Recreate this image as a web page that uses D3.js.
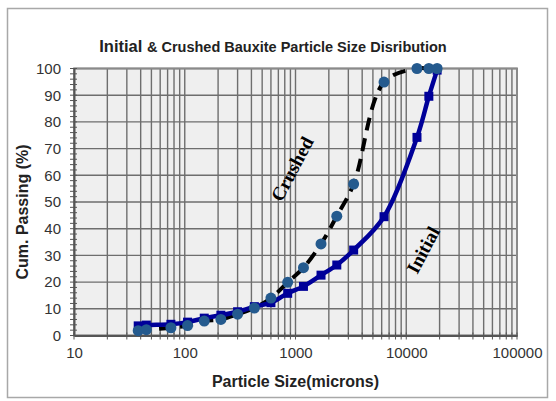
<!DOCTYPE html>
<html>
<head>
<meta charset="utf-8">
<script src="https://cdn.jsdelivr.net/npm/d3@7"></script>
<style>
  body { margin: 0; background: #fff; }
  text { font-family: Arial, "Liberation Sans", sans-serif; }
</style>
</head>
<body>
<div id="wrapper"></div>
<script>
// sieve sizes (microns) and cumulative passing (%)
const sizes = [38, 45, 75, 106, 150, 212, 300, 425, 600, 850, 1180, 1700, 2360, 3350, 6300, 12500, 16000, 19000]
const crushed = [1.8, 2.2, 2.9, 3.7, 5.4, 6.0, 8.0, 10.3, 14.0, 19.9, 25.4, 34.3, 44.7, 56.7, 94.9, 100, 100, 100]
const initial = [3.6, 3.9, 4.2, 5.0, 6.5, 7.6, 8.9, 10.8, 12.3, 15.8, 18.4, 22.6, 26.4, 32.0, 44.5, 74.2, 89.6, 99.4]
const xTicks = [10, 100, 1000, 10000, 100000]
const yTicks = [0, 10, 20, 30, 40, 50, 60, 70, 80, 90, 100]

const width = 556
const height = 401
const margin = { top: 68.5, right: 39, bottom: 65.5, left: 74 }
const boundedWidth = width - margin.left - margin.right
const boundedHeight = height - margin.top - margin.bottom

const svg = d3.select("#wrapper")
  .append("svg")
    .attr("width", width)
    .attr("height", height)

// outer frame
svg.append("rect")
    .attr("x", 7.5).attr("y", 8.5)
    .attr("width", 540).attr("height", 389)
    .attr("fill", "#fff")
    .attr("stroke", "#a8a8a8")
    .attr("stroke-width", 1.5)

const bounds = svg.append("g")
    .attr("transform", `translate(${margin.left},${margin.top})`)

const xScale = d3.scaleLog()
  .domain([10, 100000])
  .range([0, boundedWidth])
const yScale = d3.scaleLinear()
  .domain([0, 100])
  .range([boundedHeight, 0])

bounds.append("rect")
    .attr("width", boundedWidth)
    .attr("height", boundedHeight)
    .attr("fill", "#efefef")

// grid
const minorX = []
xTicks.slice(0, -1).forEach(d => {
  for (let k = 1; k <= 9; k++) minorX.push(d * k)
})
minorX.push(100000)

bounds.append("g")
  .selectAll("line")
  .data(minorX)
  .join("line")
    .attr("x1", d => xScale(d)).attr("x2", d => xScale(d))
    .attr("y1", 0).attr("y2", boundedHeight)
    .attr("stroke", "#6e6e6e")
    .attr("stroke-width", 1.4)

bounds.append("g")
  .selectAll("line")
  .data(yTicks)
  .join("line")
    .attr("x1", 0).attr("x2", boundedWidth)
    .attr("y1", d => yScale(d)).attr("y2", d => yScale(d))
    .attr("stroke", "#6e6e6e")
    .attr("stroke-width", 1.4)

bounds.append("rect")
    .attr("width", boundedWidth)
    .attr("height", boundedHeight)
    .attr("fill", "none")
    .attr("stroke", "#8a8a8a")
    .attr("stroke-width", 2)

// axes
const xAxis = bounds.append("g")
    .attr("transform", `translate(0,${boundedHeight})`)
    .call(d3.axisBottom(xScale).tickValues(xTicks).tickFormat(d3.format("d")).tickSize(0).tickPadding(12))
xAxis.select(".domain").attr("stroke", "#555").attr("stroke-width", 2)
xAxis.selectAll("text").style("font-size", "15px").attr("fill", "#333")
xAxis.append("g").selectAll("line")
  .data(minorX)
  .join("line")
    .attr("x1", d => xScale(d)).attr("x2", d => xScale(d))
    .attr("y1", -3).attr("y2", 4)
    .attr("stroke", "#555")

const yMinor = d3.range(0, 101, 2)
const yAxis = bounds.append("g")
    .call(d3.axisLeft(yScale).tickValues(yTicks).tickSize(0).tickPadding(13))
yAxis.select(".domain").attr("stroke", "#555").attr("stroke-width", 2)
yAxis.selectAll("text").style("font-size", "15px").attr("fill", "#333")
yAxis.append("g").selectAll("line")
  .data(yMinor)
  .join("line")
    .attr("x1", -4).attr("x2", 3)
    .attr("y1", d => yScale(d)).attr("y2", d => yScale(d))
    .attr("stroke", "#555")

// series
const line = vals => d3.line()
  .x((d, i) => xScale(sizes[i]))
  .y(d => yScale(d))
  .curve(d3.curveCatmullRom.alpha(0.5))(vals)

bounds.append("path")
    .attr("d", line(crushed))
    .attr("fill", "none")
    .attr("stroke", "#000")
    .attr("stroke-width", 4)
    .attr("stroke-dasharray", "13 8")

bounds.append("path")
    .attr("d", line(initial))
    .attr("fill", "none")
    .attr("stroke", "#000099")
    .attr("stroke-width", 4.5)

bounds.append("g").selectAll("rect")
  .data(initial)
  .join("rect")
    .attr("x", (d, i) => xScale(sizes[i]) - 4.5)
    .attr("y", d => yScale(d) - 4.5)
    .attr("width", 9).attr("height", 9)
    .attr("fill", "#000099")

bounds.append("g").selectAll("circle")
  .data(crushed)
  .join("circle")
    .attr("cx", (d, i) => xScale(sizes[i]))
    .attr("cy", d => yScale(d))
    .attr("r", 5.5)
    .attr("fill", "#245a8e")

// curve labels
const serif = "'Liberation Serif', 'Times New Roman', serif"
bounds.append("text")
    .attr("transform", `translate(${294 - margin.left},${170 - margin.top}) rotate(-62)`)
    .attr("text-anchor", "middle")
    .attr("dominant-baseline", "middle")
    .style("font-family", serif)
    .style("font-weight", "bold")
    .style("font-size", "19px")
    .text("Crushed")
bounds.append("text")
    .attr("transform", `translate(${425 - margin.left},${251 - margin.top}) rotate(-62)`)
    .attr("text-anchor", "middle")
    .attr("dominant-baseline", "middle")
    .style("font-family", serif)
    .style("font-weight", "bold")
    .style("font-size", "19px")
    .text("Initial")

// titles
const title = svg.append("text")
    .attr("x", 273)
    .attr("y", 52)
    .attr("text-anchor", "middle")
    .style("font-weight", "bold")
    .attr("fill", "#222")
title.append("tspan").style("font-size", "16.5px").text("Initial ")
title.append("tspan").style("font-size", "14.5px").text("& Crushed Bauxite Particle Size Disribution")

svg.append("text")
    .attr("x", margin.left + boundedWidth / 2)
    .attr("y", 387)
    .attr("text-anchor", "middle")
    .style("font-weight", "bold")
    .style("font-size", "16px")
    .attr("fill", "#222")
    .text("Particle Size(microns)")

svg.append("text")
    .attr("transform", `translate(28,${margin.top + boundedHeight / 2 + 10}) rotate(-90)`)
    .attr("text-anchor", "middle")
    .style("font-weight", "bold")
    .style("font-size", "16px")
    .attr("fill", "#222")
    .text("Cum. Passing (%)")
</script>
</body>
</html>
